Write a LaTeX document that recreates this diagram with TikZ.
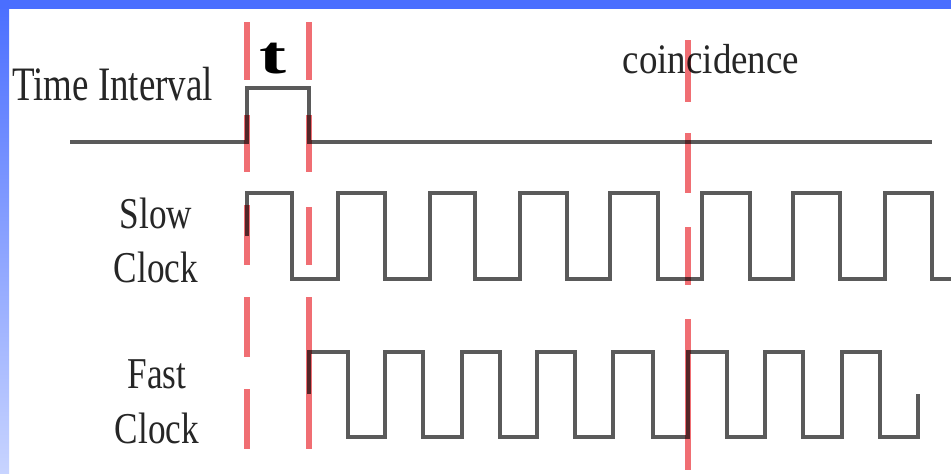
\documentclass[tikz,border=0pt]{standalone}
\usepackage{fontspec}
\setmainfont{Liberation Serif}
\definecolor{bandblue}{RGB}{74,110,255}
\definecolor{bandlight}{RGB}{200,212,255}
\definecolor{sig}{RGB}{90,90,90}
\definecolor{mark}{RGB}{240,110,115}
\tikzset{
  signal/.style={draw=sig, line width=3.5pt, line join=miter},
  marker/.style={draw=mark, line width=6pt},
  lbl/.style={inner sep=0pt, anchor=base, text=black!85},
}
\begin{document}
\begin{tikzpicture}[x=1pt,y=-1pt]
\useasboundingbox (0,0) rectangle (951,474);
\fill[white] (0,0) rectangle (951,474);
% blue frame
\shade[top color=bandblue, bottom color=bandlight] (0,0) rectangle (9,474);
\fill[bandblue] (0,0) rectangle (951,9);

% labels
\node[lbl, anchor=base west] (ti) at (12,100) {\fontsize{48}{54}\selectfont\scalebox{0.77}[1]{Time Interval}};
\node[lbl] (slow) at (156,228) {\fontsize{44}{54}\selectfont\scalebox{0.8}[1]{Slow}};
\node[lbl] (sclock) at (156,282) {\fontsize{44}{54}\selectfont\scalebox{0.8}[1]{Clock}};
\node[lbl] (fast) at (157,388) {\fontsize{44}{54}\selectfont\scalebox{0.8}[1]{Fast}};
\node[lbl] (fclock) at (157,443) {\fontsize{44}{54}\selectfont\scalebox{0.8}[1]{Clock}};
\node[lbl] (coin) at (711,73) {\fontsize{42}{50}\selectfont\scalebox{0.88}[1]{coincidence}};
\node[lbl, text=black] (t) at (273,73) {\fontsize{54}{60}\selectfont\scalebox{1.5}[1]{\bfseries t}};

% time interval signal
\draw[signal] (70,142) -- (247,142) -- (247,88) -- (309,88) -- (309,142) -- (932,142);

% slow clock
\draw[signal] (247,236) -- (247,193)
  -- (292,193) -- (292,279) -- (338,279) -- (338,193)
  -- (385,193) -- (385,279) -- (430,279) -- (430,193)
  -- (475,193) -- (475,279) -- (520,279) -- (520,193)
  -- (567,193) -- (567,279) -- (610,279) -- (610,193)
  -- (658,193) -- (658,279) -- (702,279) -- (702,193)
  -- (750,193) -- (750,279) -- (793,279) -- (793,193)
  -- (840,193) -- (840,279) -- (885,279) -- (885,193)
  -- (932,193) -- (932,279) -- (951,279);

% fast clock
\draw[signal] (309,394) -- (309,352)
  -- (348,352) -- (348,437) -- (385,437) -- (385,352)
  -- (423,352) -- (423,437) -- (462,437) -- (462,352)
  -- (500,352) -- (500,437) -- (537,437) -- (537,352)
  -- (575,352) -- (575,437) -- (613,437) -- (613,352)
  -- (653,352) -- (653,437) -- (688,437) -- (688,352)
  -- (727,352) -- (727,437) -- (765,437) -- (765,352)
  -- (803,352) -- (803,437) -- (842,437) -- (842,352)
  -- (880,352) -- (880,437) -- (918,437) -- (918,394);

% red markers
\begin{scope}[blend mode=multiply]
\foreach \a/\b in {22/80,115/172,205/265,297/357,389/449}
  \draw[marker] (247,\a) -- (247,\b);
\foreach \a/\b in {22/80,115/172,207/265,297/449}
  \draw[marker] (309,\a) -- (309,\b);
\foreach \a/\b in {40/102,133/193,227/285,319/470}
  \draw[marker] (688,\a) -- (688,\b);
\end{scope}
\end{tikzpicture}
\end{document}
